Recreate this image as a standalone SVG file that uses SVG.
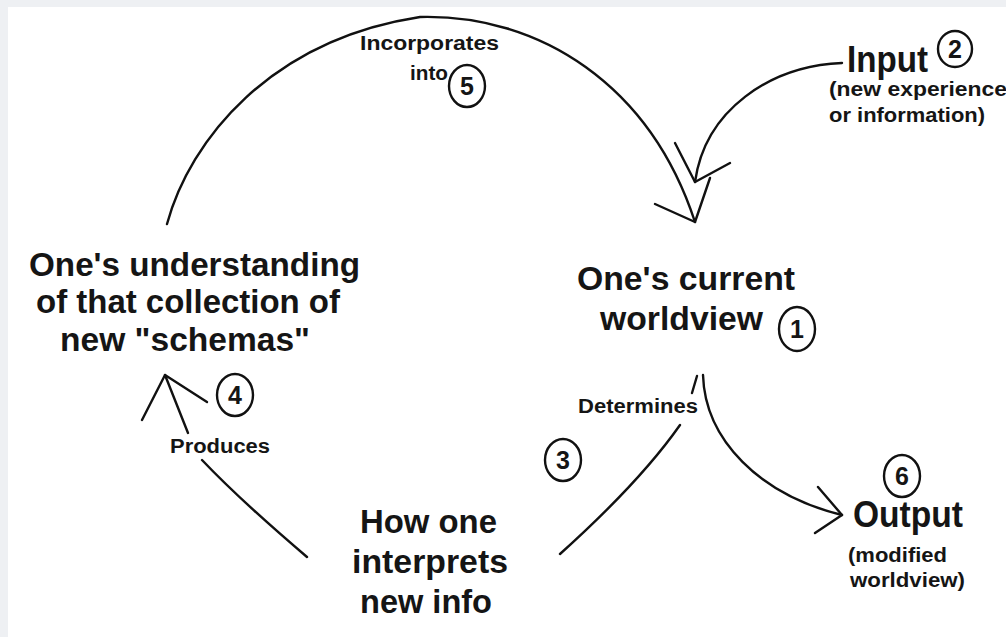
<svg xmlns="http://www.w3.org/2000/svg" width="1006" height="637" viewBox="0 0 1006 637">
<style>
.ln{fill:none;stroke:#111;stroke-width:2.4;stroke-linecap:round;stroke-linejoin:round}
.circ{fill:none;stroke:#111;stroke-width:2.4}
text{font-family:"Liberation Sans",Arial,sans-serif;font-weight:bold;fill:#151515}
.big{font-size:33px}
.io{font-size:36px}
.sm{font-size:19.5px}
.num{font-size:25px;text-anchor:middle}
</style>
<rect x="0" y="0" width="1006" height="637" fill="#eef0f3"/>
<rect x="8" y="7" width="998" height="630" fill="#ffffff"/>

<g id="connectors">
  <path class="ln" d="M167,224 C190,140 270,40 420,17 C540,14 650,85 695,222"/>
  <path class="ln" d="M655,204 L695,222 L710,178"/>
  <path class="ln" d="M842,63 C770,66 705,110 695,182"/>
  <path class="ln" d="M675,143 L695,182 L730,163"/>
  <path class="ln" d="M560,554 Q640,482 680,425"/>
  <path class="ln" d="M692,393 L697,376"/>
  <path class="ln" d="M703,375 C705,440 760,495 842,515"/>
  <path class="ln" d="M818,487 L842,515 L815,533"/>
  <path class="ln" d="M307,557 Q240,500 202,460"/>
  <path class="ln" d="M188,433 L165,375"/>
  <path class="ln" d="M142,420 L165,375 L207,402"/>
</g>

<g id="label-incorporates">
  <text class="sm" x="360" y="50" textLength="139" lengthAdjust="spacingAndGlyphs">Incorporates</text>
  <text class="sm" x="410" y="80" textLength="38" lengthAdjust="spacingAndGlyphs">into</text>
  <ellipse class="circ" cx="467" cy="86" rx="18" ry="21"/>
  <text class="num" x="467" y="95">5</text>
</g>

<g id="node-input">
  <text class="io" x="847" y="72" textLength="81" lengthAdjust="spacingAndGlyphs">Input</text>
  <ellipse class="circ" cx="955" cy="49" rx="17" ry="18"/>
  <text class="num" x="955" y="58">2</text>
  <text class="sm" x="829" y="96" textLength="178" lengthAdjust="spacingAndGlyphs">(new experience</text>
  <text class="sm" x="829" y="122" textLength="156" lengthAdjust="spacingAndGlyphs">or information)</text>
</g>

<g id="node-understanding">
  <text class="big" x="29" y="276" textLength="331" lengthAdjust="spacingAndGlyphs">One's understanding</text>
  <text class="big" x="36" y="313" textLength="304" lengthAdjust="spacingAndGlyphs">of that collection of</text>
  <text class="big" x="60" y="351" textLength="250" lengthAdjust="spacingAndGlyphs">new "schemas"</text>
</g>

<g id="node-worldview">
  <text class="big" x="577" y="290" textLength="218" lengthAdjust="spacingAndGlyphs">One's current</text>
  <text class="big" x="600" y="330" textLength="163" lengthAdjust="spacingAndGlyphs">worldview</text>
  <ellipse class="circ" cx="797" cy="329" rx="18" ry="22"/>
  <text class="num" x="797" y="338">1</text>
</g>

<g id="label-produces">
  <ellipse class="circ" cx="235" cy="395" rx="18" ry="21"/>
  <text class="num" x="235" y="404">4</text>
  <text class="sm" x="170" y="453" textLength="100" lengthAdjust="spacingAndGlyphs">Produces</text>
</g>

<g id="label-determines">
  <text class="sm" x="578" y="413" textLength="120" lengthAdjust="spacingAndGlyphs">Determines</text>
  <ellipse class="circ" cx="563" cy="460" rx="18" ry="21"/>
  <text class="num" x="563" y="469">3</text>
</g>

<g id="node-interprets">
  <text class="big" x="360" y="533" textLength="137" lengthAdjust="spacingAndGlyphs">How one</text>
  <text class="big" x="352" y="573" textLength="156" lengthAdjust="spacingAndGlyphs">interprets</text>
  <text class="big" x="360" y="613" textLength="132" lengthAdjust="spacingAndGlyphs">new info</text>
</g>

<g id="node-output">
  <ellipse class="circ" cx="902" cy="476" rx="18" ry="21"/>
  <text class="num" x="902" y="485">6</text>
  <text class="io" x="853" y="527" textLength="110" lengthAdjust="spacingAndGlyphs">Output</text>
  <text class="sm" x="848" y="562" textLength="99" lengthAdjust="spacingAndGlyphs">(modified</text>
  <text class="sm" x="850" y="587" textLength="115" lengthAdjust="spacingAndGlyphs">worldview)</text>
</g>
</svg>
